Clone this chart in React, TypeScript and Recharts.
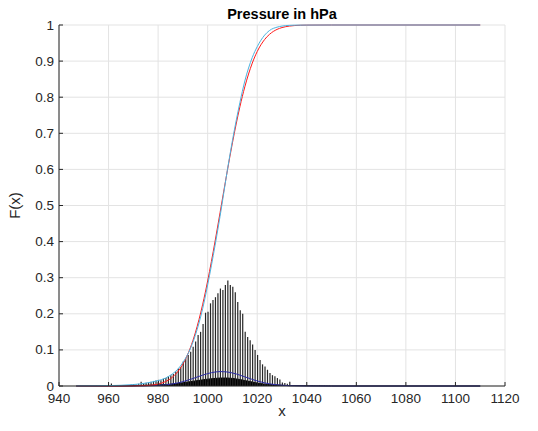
import {
  ComposedChart,
  Bar,
  Line,
  Area,
  XAxis,
  YAxis,
  CartesianGrid,
} from "recharts";

// histogram of observed pressures, one bar per hPa starting at histStart
const histStart = 960;
const histValues = [
  0.001, 0.007, 0.001, 0.001, 0.002, 0.001, 0.003, 0.002, 0.003, 0.004,
  0.005, 0.004, 0.006, 0.012, 0.007, 0.009, 0.01, 0.012, 0.014, 0.015,
  0.017, 0.016, 0.02, 0.022, 0.027, 0.03, 0.033, 0.04, 0.048, 0.052,
  0.068, 0.077, 0.086, 0.095, 0.109, 0.123, 0.141, 0.15, 0.172, 0.203,
  0.206, 0.229, 0.238, 0.246, 0.257, 0.27, 0.266, 0.28, 0.292, 0.28,
  0.275, 0.26, 0.233, 0.21, 0.2, 0.15, 0.136, 0.127, 0.115, 0.1,
  0.086, 0.072, 0.06, 0.054, 0.045, 0.036, 0.03, 0.027, 0.022, 0.018,
  0.01, 0.008, 0.006, 0.012, 0.003, 0.003, 0.002, 0.002, 0.003, 0.002,
  0.002, 0.001, 0.002, 0.001, 0.001, 0.002, 0.001, 0.001, 0.001, 0.001,
  0.001,
];

// points
const curveX = [
  947, 955, 960, 965, 970, 975, 980, 983, 985, 988, 990, 993, 995, 998, 1000,
  1003, 1005, 1008, 1010, 1013, 1015, 1018, 1020, 1023, 1025, 1028, 1030,
  1033, 1035, 1040, 1050, 1110,
];
const cdfFit = [
  0, 0, 0, 0, 0.0002, 0.0011, 0.0054, 0.0122, 0.0202, 0.0401, 0.0606, 0.1056,
  0.1469, 0.2266, 0.2912, 0.4013, 0.4801, 0.5987, 0.6736, 0.7734, 0.8289,
  0.8944, 0.9265, 0.9599, 0.9744, 0.9878, 0.9929, 0.997, 0.9984, 0.9997, 1, 1,
];
const cdfEmp = [
  0.0002, 0.0005, 0.001, 0.002, 0.004, 0.008, 0.015, 0.022, 0.03, 0.047,
  0.065, 0.103, 0.14, 0.215, 0.28, 0.39, 0.47, 0.6, 0.68, 0.785, 0.845, 0.91,
  0.94, 0.972, 0.985, 0.994, 0.997, 0.999, 0.9995, 0.9998, 1, 1,
];
const pdfFit = [
  0, 0, 0, 0, 0.0001, 0.0004, 0.0016, 0.0032, 0.0049, 0.0086, 0.012, 0.0183,
  0.023, 0.0301, 0.0343, 0.0387, 0.0399, 0.0387, 0.0361, 0.0301, 0.0254,
  0.0183, 0.0139, 0.0086, 0.006, 0.0032, 0.002, 0.0009, 0.0005, 0.0001, 0, 0,
];
// dense black base of the fractional-value bars
const baseValues = [
  0, 0, 0.0005, 0.0005, 0.001, 0.002, 0.003, 0.004, 0.005, 0.007, 0.009,
  0.012, 0.014, 0.017, 0.019, 0.021, 0.022, 0.022, 0.021, 0.018, 0.015, 0.011,
  0.008, 0.005, 0.004, 0.003, 0.002, 0.001, 0.001, 0.0005, 0, 0,
];

const xTicks = [940, 960, 980, 1000, 1020, 1040, 1060, 1080, 1100, 1120];
const yTicks = [0, 0.1, 0.2, 0.3, 0.4, 0.5, 0.6, 0.7, 0.8, 0.9, 1];

type Row = {
  x: number;
  hist?: number;
  fit?: number;
  emp?: number;
  pdf?: number;
  base?: number;
};

const rowMap = new Map<number, Row>();
const getRow = (x: number) => {
  if (!rowMap.has(x)) rowMap.set(x, { x });
  return rowMap.get(x)!;
};
histValues.forEach((v, i) => {
  getRow(histStart + i).hist = v;
});
curveX.forEach((x, i) => {
  const r = getRow(x);
  r.fit = cdfFit[i];
  r.emp = cdfEmp[i];
  r.pdf = pdfFit[i];
  r.base = baseValues[i];
});
const data = Array.from(rowMap.values()).sort((a, b) => a.x - b.x);

const FONT = "'Liberation Sans', Arial, Helvetica, sans-serif";
const INK = "#262626";

const BottomTick = (props: any) => {
  const { x, y, payload } = props;
  return (
    <g>
      <line x1={x} x2={x} y1={y} y2={y - 4} stroke={INK} />
      <text x={x} y={y + 17} textAnchor="middle" fill={INK} fontSize={13.5} fontFamily={FONT}>
        {payload.value}
      </text>
    </g>
  );
};

const TopTick = (props: any) => {
  const { x, y } = props;
  return <line x1={x} x2={x} y1={y} y2={y + 4} stroke={INK} />;
};

const LeftTick = (props: any) => {
  const { x, y, payload } = props;
  return (
    <g>
      <line x1={x} x2={x + 4} y1={y} y2={y} stroke={INK} />
      <text x={x - 5} y={y + 4.5} textAnchor="end" fill={INK} fontSize={13.5} fontFamily={FONT}>
        {payload.value}
      </text>
    </g>
  );
};

const RightTick = (props: any) => {
  const { x, y } = props;
  return <line x1={x} x2={x - 4} y1={y} y2={y} stroke={INK} />;
};

export default function App() {
  return (
    <div style={{ position: "absolute", left: 0, top: 0, width: 538, height: 431, background: "#fff" }}>
      <div
        style={{
          position: "absolute",
          left: 59,
          top: 5,
          width: 446,
          textAlign: "center",
          fontFamily: FONT,
          fontWeight: "bold",
          fontSize: 14.5,
          lineHeight: "18px",
          color: "#000",
        }}
      >
        Pressure in hPa
      </div>
      <ComposedChart
        width={538}
        height={431}
        data={data}
        margin={{ top: 25, right: 33, bottom: 0, left: 0 }}
      >
        <CartesianGrid stroke="#e3e3e3" strokeWidth={1} />
        <XAxis
          dataKey="x"
          type="number"
          domain={[940, 1120]}
          ticks={xTicks}
          interval={0}
          height={45}
          tickSize={0}
          tickMargin={0}
          tickLine={false}
          axisLine={{ stroke: INK }}
          tick={<BottomTick />}
          label={{
            content: (p: any) => (
              <text
                x={p.viewBox.x + p.viewBox.width / 2}
                y={p.viewBox.y + 30}
                textAnchor="middle"
                fill={INK}
                fontSize={15}
                fontFamily={FONT}
              >
                x
              </text>
            ),
          }}
        />
        <XAxis
          xAxisId="top"
          orientation="top"
          dataKey="x"
          type="number"
          domain={[940, 1120]}
          ticks={xTicks}
          interval={0}
          height={0}
          tickSize={0}
          tickMargin={0}
          tickLine={false}
          axisLine={{ stroke: INK }}
          tick={<TopTick />}
        />
        <YAxis
          type="number"
          domain={[0, 1]}
          ticks={yTicks}
          interval={0}
          width={59}
          tickSize={0}
          tickMargin={0}
          tickLine={false}
          axisLine={{ stroke: INK }}
          tick={<LeftTick />}
          label={{
            content: (p: any) => {
              const cx = p.viewBox.x + 20;
              const cy = p.viewBox.y + p.viewBox.height / 2;
              return (
                <text
                  x={cx}
                  y={cy}
                  transform={`rotate(-90 ${cx} ${cy})`}
                  textAnchor="middle"
                  fill={INK}
                  fontSize={15}
                  fontFamily={FONT}
                >
                  F(x)
                </text>
              );
            },
          }}
        />
        <YAxis
          yAxisId="right"
          orientation="right"
          type="number"
          domain={[0, 1]}
          ticks={yTicks}
          interval={0}
          width={0}
          tickSize={0}
          tickMargin={0}
          tickLine={false}
          axisLine={{ stroke: INK }}
          tick={<RightTick />}
        />
        <Bar dataKey="hist" barSize={1.2} fill="#262626" isAnimationActive={false} />
        <Area
          dataKey="base"
          type="linear"
          fill="#000"
          fillOpacity={1}
          stroke="#000"
          strokeWidth={1}
          connectNulls
          dot={false}
          activeDot={false}
          isAnimationActive={false}
        />
        <Line
          dataKey="pdf"
          type="monotone"
          stroke="#2b2ba6"
          strokeWidth={1}
          connectNulls
          dot={false}
          activeDot={false}
          isAnimationActive={false}
        />
        <Line
          dataKey="fit"
          type="monotone"
          stroke="#ff1a1a"
          strokeWidth={1}
          connectNulls
          dot={false}
          activeDot={false}
          isAnimationActive={false}
        />
        <Line
          dataKey="emp"
          type="monotone"
          stroke="#4db3e0"
          strokeWidth={1}
          connectNulls
          dot={false}
          activeDot={false}
          isAnimationActive={false}
        />
      </ComposedChart>
    </div>
  );
}
